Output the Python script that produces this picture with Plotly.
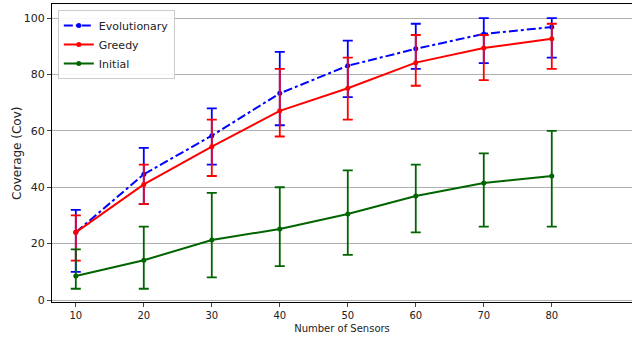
import plotly.graph_objects as go

sensors = [10, 20, 30, 40, 50, 60, 70, 80]

evo_mean = [24.0, 44.6, 58.3, 73.3, 83.1, 89.1, 94.4, 96.8]
evo_hi = [32, 54, 68, 88, 92, 98, 100, 100]
evo_lo = [10, 34, 48, 62, 72, 82, 84, 86]

greedy_mean = [24.0, 41.0, 54.4, 67.1, 75.1, 84.2, 89.4, 92.7]
greedy_hi = [30, 48, 64, 82, 86, 94, 94, 98]
greedy_lo = [14, 34, 44, 58, 64, 76, 78, 82]

init_mean = [8.5, 14.1, 21.3, 25.2, 30.5, 36.9, 41.5, 44.0]
init_hi = [18, 26, 38, 40, 46, 48, 52, 60]
init_lo = [4, 4, 8, 12, 16, 24, 26, 26]

series = [
    ("Evolutionary", evo_mean, evo_hi, evo_lo, "#0000ff", "dashdot"),
    ("Greedy", greedy_mean, greedy_hi, greedy_lo, "#ff0000", "solid"),
    ("Initial", init_mean, init_hi, init_lo, "#006400", "solid"),
]

fig = go.Figure()
for name, m, hi, lo, col, dash in series:
    fig.add_trace(go.Scatter(
        x=sensors, y=m, name=name, mode="lines+markers",
        line=dict(color=col, width=2, dash=dash),
        marker=dict(color=col, size=5),
        error_y=dict(type="data", symmetric=False,
                     array=[h - v for h, v in zip(hi, m)],
                     arrayminus=[v - l for v, l in zip(m, lo)],
                     color=col, thickness=1.8, width=5),
    ))

fig.add_annotation(text="Coverage (Cov)", textangle=-90, xref="paper", yref="paper",
                   x=-(52 - 17) / 580, y=0.5, xanchor="center", yanchor="middle",
                   showarrow=False, font=dict(size=12, family="DejaVu Sans", color="#222222"))

fig.update_layout(
    width=632, height=339,
    margin=dict(l=52, r=0, t=4, b=37),
    paper_bgcolor="white", plot_bgcolor="white",
    font=dict(family="DejaVu Sans", color="#222222", size=10),
    showlegend=True,
    legend=dict(x=0.01, y=0.98, xanchor="left", yanchor="top",
                bgcolor="rgba(255,255,255,0.9)", bordercolor="#cccccc", borderwidth=1,
                font=dict(size=11), tracegroupgap=0, itemwidth=30),
    xaxis=dict(range=[6.5, 91.8], tickvals=sensors, ticks="outside", ticklen=4,
               showgrid=False, showline=True, linecolor="black", linewidth=1, mirror=True,
               zeroline=False, tickfont=dict(size=10),
               title=dict(text="Number of Sensors", font=dict(size=10), standoff=4)),
    yaxis=dict(range=[-0.7, 105], tickvals=[0, 20, 40, 60, 80, 100], ticks="outside", ticklen=4,
               showgrid=True, gridcolor="#b0b0b0", gridwidth=1,
               showline=True, linecolor="black", linewidth=1, mirror=True,
               zeroline=False, tickfont=dict(size=11)),
)

fig.write_html("out.html", config={"displayModeBar": False},
               post_script="document.body.style.margin='0';")
